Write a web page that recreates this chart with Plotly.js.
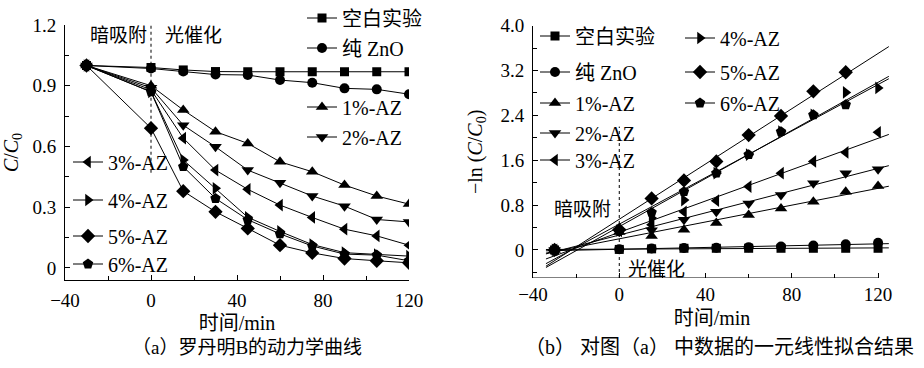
<!DOCTYPE html>
<html><head><meta charset="utf-8">
<script src="https://cdn.plot.ly/plotly-3.0.1.min.js"></script>
<style>html,body{margin:0;padding:0;background:#fff;}#chart{width:924px;height:368px;}</style>
</head><body><div id="chart"></div>
<script>
// ---------------- data ----------------
const seriesNames = ['空白实验', '纯 ZnO', '1%-AZ', '2%-AZ', '3%-AZ', '4%-AZ', '5%-AZ', '6%-AZ'];
const timeMin = [-30, 0, 15, 30, 45, 60, 75, 90, 105, 120];
const xTickVals = [-40, 0, 40, 80, 120];

// (a) C/C0 vs time
const blankA = [1.00, 0.99, 0.978, 0.97, 0.969, 0.969, 0.969, 0.969, 0.969, 0.969];
const znoA   = [1.00, 0.985, 0.97, 0.955, 0.953, 0.928, 0.915, 0.887, 0.882, 0.858];
const az1A   = [1.00, 0.90, 0.78, 0.673, 0.615, 0.524, 0.475, 0.409, 0.355, 0.315];
const az2A   = [1.00, 0.89, 0.705, 0.598, 0.483, 0.42, 0.355, 0.305, 0.239, 0.227];
const az3A   = [1.00, 0.88, 0.641, 0.483, 0.388, 0.31, 0.249, 0.191, 0.158, 0.112];
const az4A   = [1.00, 0.87, 0.533, 0.393, 0.25, 0.18, 0.115, 0.075, 0.065, 0.058];
const az5A   = [1.00, 0.69, 0.379, 0.277, 0.195, 0.112, 0.074, 0.046, 0.035, 0.025];
const az6A   = [1.00, 0.87, 0.50, 0.343, 0.238, 0.168, 0.108, 0.068, 0.063, 0.035];
const yTickValsA = [0, 0.3, 0.6, 0.9, 1.2];

// (b) -ln(C/C0) vs time
const blankB = [0, 0.01, 0.02, 0.03, 0.03, 0.03, 0.03, 0.03, 0.03, 0.03];
const znoB   = [0, 0.015, 0.025, 0.035, 0.04, 0.05, 0.06, 0.08, 0.10, 0.13];
const az1B   = [0, 0.32, 0.25, 0.36, 0.48, 0.625, 0.74, 0.86, 1.04, 1.14];
const az2B   = [0, 0.33, 0.35, 0.54, 0.68, 0.83, 0.98, 1.19, 1.37, 1.44];
const az3B   = [0, 0.34, 0.45, 0.68, 0.88, 1.13, 1.37, 1.58, 1.74, 2.10];
const az4B   = [0, 0.35, 0.57, 0.89, 1.37, 1.70, 2.11, 2.41, 2.81, 2.89];
const az5B   = [0, 0.36, 0.92, 1.24, 1.58, 2.05, 2.39, 2.83, 3.17, null];
const az6B   = [0, 0.35, 0.67, 1.04, 1.37, 1.70, 2.11, 2.41, 2.59, null];
const yTickValsB = [0, 0.8, 1.6, 2.4, 3.2, 4.0];
const yTickTextB = ['0', '0.8', '1.6', '2.4', '3.2', '4.0'];
const fitRange = [-34, 125];

// ---------------- styling ----------------
const W = 924, H = 368;
const SERIF = "'Liberation Serif', 'Times New Roman', 'Noto Sans CJK SC', serif";
const CJK = "'Noto Sans CJK SC', 'Liberation Serif', sans-serif";
const symbols = ['square', 'circle', 'triangle-up', 'triangle-down', 'triangle-left', 'triangle-right', 'diamond', 'pentagon'];
const sizes = [9, 10, 11, 11, 11, 11, 11, 11];
const seriesA = [blankA, znoA, az1A, az2A, az3A, az4A, az5A, az6A];
const seriesB = [blankB, znoB, az1B, az2B, az3B, az4B, az5B, az6B];
// legend key centres (pixels)
const legPosA = [[322, 18], [322, 48], [322, 107], [322, 137], [88, 162], [88, 200], [88, 236], [88, 264]];
const legPosB = [[555, 36], [555, 72], [555, 103], [555, 133], [555, 160], [700, 38], [700, 72], [700, 103]];

function px2x(p) { return p / W; }
function px2y(p) { return 1 - p / H; }

function linFit(xs, ys) {
  const pts = xs.map((x, i) => [x, ys[i]]).filter(p => p[1] !== null && p[1] !== undefined);
  const n = pts.length;
  const mx = pts.reduce((s, p) => s + p[0], 0) / n;
  const my = pts.reduce((s, p) => s + p[1], 0) / n;
  let sxy = 0, sxx = 0;
  pts.forEach(p => { sxy += (p[0] - mx) * (p[1] - my); sxx += (p[0] - mx) ** 2; });
  const b = sxy / sxx;
  return { a: my - b * mx, b: b };
}

const traces = [];
const layout = {
  width: W, height: H,
  margin: { l: 0, r: 0, t: 0, b: 0, pad: 0, autoexpand: false },
  paper_bgcolor: '#ffffff', plot_bgcolor: 'rgba(0,0,0,0)',
  font: { family: SERIF, size: 19, color: '#000' },
  showlegend: true, hovermode: false,
  shapes: [], annotations: []
};

let legIdx = 0;
function nextLegend(pos) {
  legIdx += 1;
  const id = legIdx === 1 ? 'legend' : 'legend' + legIdx;
  layout[id] = {
    x: px2x(pos[0] - 20), xanchor: 'left', y: px2y(pos[1]), yanchor: 'middle',
    bgcolor: 'rgba(0,0,0,0)', borderwidth: 0,
    font: { family: SERIF, size: 20, color: '#000' }
  };
  return id;
}

// (a) traces
seriesA.forEach((ys, i) => {
  traces.push({
    x: timeMin, y: ys, xaxis: 'x', yaxis: 'y', name: seriesNames[i],
    mode: 'lines+markers', line: { color: '#000', width: 1 },
    marker: { symbol: symbols[i], size: sizes[i], color: '#000', line: { width: 0 } },
    legend: nextLegend(legPosA[i]), showlegend: true
  });
});

// (b) traces: data markers + least squares fit lines
seriesB.forEach((ys, i) => {
  traces.push({
    x: timeMin, y: ys, xaxis: 'x2', yaxis: 'y2', name: seriesNames[i],
    mode: 'markers', cliponaxis: false,
    marker: { symbol: symbols[i], size: sizes[i], color: '#000', line: { width: 0 } },
    showlegend: false
  });
  const f = linFit(timeMin, ys);
  traces.push({
    x: fitRange, y: fitRange.map(t => f.a + f.b * t), xaxis: 'x2', yaxis: 'y2',
    mode: 'lines', line: { color: '#000', width: 1 }, showlegend: false, name: seriesNames[i] + ' fit'
  });
});
// (b) legend keys
seriesNames.forEach((nm, i) => {
  traces.push({
    x: [null], y: [null], xaxis: 'x2', yaxis: 'y2', name: nm,
    mode: 'lines+markers', line: { color: '#000', width: 1 },
    marker: { symbol: symbols[i], size: sizes[i], color: '#000', line: { width: 0 } },
    legend: nextLegend(legPosB[i]), showlegend: true
  });
});

const axCommon = {
  ticks: 'inside', ticklen: 5, tickwidth: 1, tickcolor: '#000',
  showgrid: false, zeroline: false, linecolor: '#000', linewidth: 1,
  tickfont: { family: SERIF, size: 19, color: '#000' }, fixedrange: true, automargin: false
};
const titleFont = { family: SERIF, size: 20, color: '#000' };
layout.xaxis = Object.assign({}, axCommon, {
  domain: [px2x(65), px2x(409)], range: [-40, 120], anchor: 'y', showline: true,
  tickmode: 'array', tickvals: xTickVals, ticklabelstandoff: 3,
  title: { text: '时间/min', font: titleFont, standoff: 6 },
  minor: { tick0: -40, dtick: 20, ticks: 'inside', ticklen: 4, tickcolor: '#000', showgrid: false }
});
layout.yaxis = Object.assign({}, axCommon, {
  domain: [px2y(280), px2y(25)], range: [-0.06, 1.2], anchor: 'x', showline: true,
  tickmode: 'array', tickvals: yTickValsA, ticklabelstandoff: 4,
  title: { text: '<i>C</i>/<i>C</i><sub>0</sub>', font: titleFont, standoff: 8 },
  minor: { tick0: 0, dtick: 0.15, ticks: 'inside', ticklen: 4, tickcolor: '#000', showgrid: false }
});
layout.xaxis2 = Object.assign({}, axCommon, {
  domain: [px2x(533), px2x(891)], range: [-40, 126], anchor: 'y2', showline: false,
  tickmode: 'array', tickvals: xTickVals, ticklabelstandoff: 3,
  title: { text: '时间/min', font: titleFont, standoff: 6 },
  minor: { tick0: -40, dtick: 20, ticks: 'inside', ticklen: 4, tickcolor: '#000', showgrid: false }
});
layout.yaxis2 = Object.assign({}, axCommon, {
  domain: [px2y(278), px2y(25.7)], range: [-0.5, 4.0], anchor: 'x2', showline: true,
  tickmode: 'array', tickvals: yTickValsB, ticktext: yTickTextB, ticklabelstandoff: 4,
  title: { text: '−ln (<i>C</i>/<i>C</i><sub>0</sub>)', font: titleFont, standoff: 12 },
  minor: { tick0: 0, dtick: 0.4, ticks: 'inside', ticklen: 4, tickcolor: '#000', showgrid: false }
});

// x-axis line of (b) ending at the last tick
layout.shapes.push({ type: 'line', xref: 'x2', yref: 'y2', x0: xTickVals[0], x1: xTickVals[xTickVals.length - 1], y0: -0.5, y1: -0.5, line: { color: '#000', width: 1 } });
// dark adsorption / photocatalysis boundary (t = 0)
layout.shapes.push({ type: 'line', xref: 'x', yref: 'y', x0: 0, x1: 0, y0: 0.47, y1: 1.2, line: { color: '#000', width: 1, dash: 'dot' } });
layout.shapes.push({ type: 'line', xref: 'x2', yref: 'y2', x0: 0, x1: 0, y0: -0.5, y1: 2.2, line: { color: '#000', width: 1, dash: 'dot' } });

function ann(text, cx, cy, size, family, angle) {
  layout.annotations.push({
    text: text, xref: 'paper', yref: 'paper', x: px2x(cx), y: px2y(cy),
    xanchor: 'center', yanchor: 'middle', showarrow: false, textangle: angle || 0,
    font: { family: family, size: size, color: '#000' }
  });
}
ann('暗吸附', 118, 33, 19, CJK);
ann('光催化', 193, 33, 19, CJK);
ann('暗吸附', 582, 208, 19, CJK);
ann('光催化', 656, 267, 19, CJK);
ann('（a）罗丹明B的动力学曲线', 247, 347, 19, SERIF);
ann('（b） 对图（a） 中数据的一元线性拟合结果', 719, 347, 20, SERIF);

Plotly.newPlot('chart', traces, layout, { staticPlot: true, displayModeBar: false });
</script>
</body></html>
